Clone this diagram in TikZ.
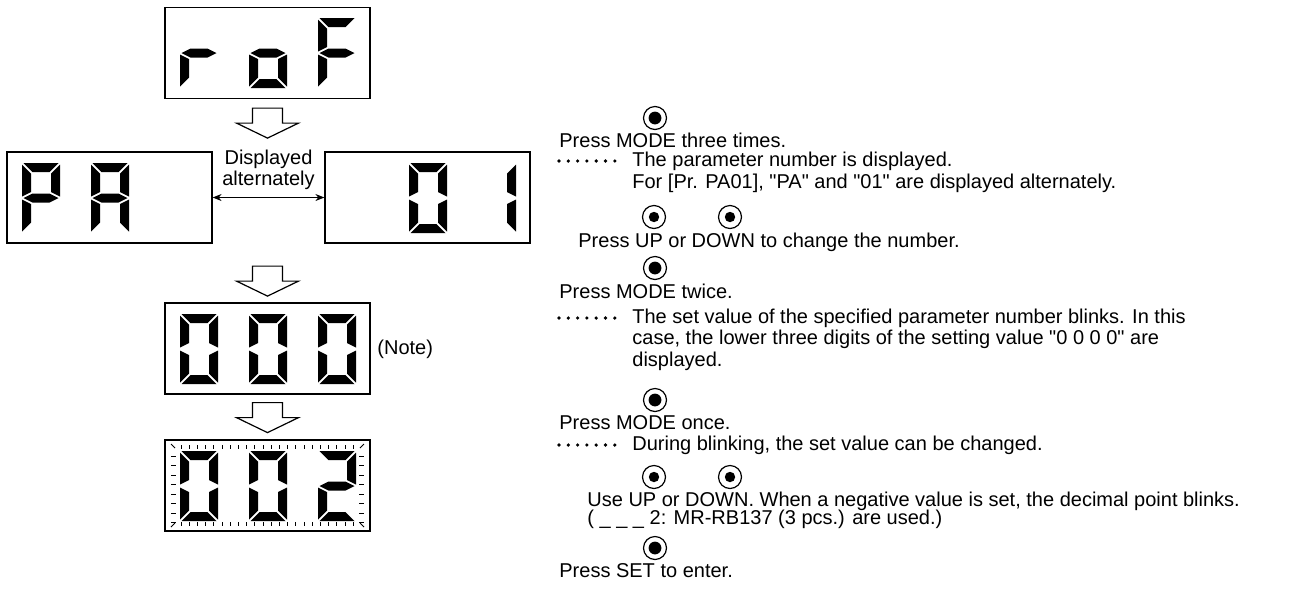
\documentclass[tikz,border=0pt]{standalone}
\usepackage{fontspec}
\setmainfont{Liberation Sans}[Ligatures=TeXOff]
\usetikzlibrary{arrows.meta,calc}

% seven segment digit (units: px)
\def\dw{38}\def\dh{70}\def\dm{35}\def\dt{9}\def\dg{1.5}
\newcommand{\sega}{\fill (\dg,0) -- ({\dw-\dg},0) -- ({\dw-\dt-\dg},\dt) -- ({\dt+\dg},\dt) -- cycle;}
\newcommand{\segb}{\fill (\dw,\dg) -- (\dw,{\dm-\dg}) -- ({\dw-\dt},{\dm-\dt/2-\dg}) -- ({\dw-\dt},{\dt+\dg}) -- cycle;}
\newcommand{\segc}{\fill (\dw,{\dm+\dg}) -- (\dw,{\dh-\dg}) -- ({\dw-\dt},{\dh-\dt-\dg}) -- ({\dw-\dt},{\dm+\dt/2+\dg}) -- cycle;}
\newcommand{\segd}{\fill (\dg,\dh) -- ({\dt+\dg},{\dh-\dt}) -- ({\dw-\dt-\dg},{\dh-\dt}) -- ({\dw-\dg},\dh) -- cycle;}
\newcommand{\sege}{\fill (0,{\dm+\dg}) -- (\dt,{\dm+\dt/2+\dg}) -- (\dt,{\dh-\dt-\dg}) -- (0,{\dh-\dg}) -- cycle;}
\newcommand{\segf}{\fill (0,\dg) -- (\dt,{\dt+\dg}) -- (\dt,{\dm-\dt/2-\dg}) -- (0,{\dm-\dg}) -- cycle;}
\newcommand{\segg}{\fill (\dg,\dm) -- ({\dt+\dg},{\dm-\dt/2}) -- ({\dw-\dt-\dg},{\dm-\dt/2}) -- ({\dw-\dg},\dm) -- ({\dw-\dt-\dg},{\dm+\dt/2}) -- ({\dt+\dg},{\dm+\dt/2}) -- cycle;}
\newcommand{\segdigit}[3]{\begin{scope}[shift={(#1,#2)}]\foreach \s in {#3}{\csname seg\s\endcsname}\end{scope}}
% hollow down arrow, top centre at #1
\newcommand{\flowarrow}[1]{\draw[hollow] (#1) ++(-15,0) -- ++(30,0) -- ++(0,15) -- ++(16,0) -- ++(-31,15) -- ++(-31,-15) -- ++(16,0) -- cycle;}
% row of dots
\newcommand{\dotrow}[2]{\foreach \i in {0,...,6} \fill ({#1+\i*9.3},#2) circle (0.9pt);}

\begin{document}
\begin{tikzpicture}[x=0.5pt,y=-0.5pt,
    disp/.style={draw, line width=0.6pt, minimum width=102.5pt, minimum height=45.5pt, inner sep=0pt},
    txt/.style={inner sep=0pt, anchor=base west},
    btn/.style={draw, circle, line width=0.6pt, minimum size=11.5pt, inner sep=0pt},
    hollow/.style={draw, line width=0.6pt, fill=white},
    font=\fontsize{10pt}{11pt}\selectfont]
\useasboundingbox (0,0) rectangle (1295,601);

% display: roF
\node[disp] (rof) at (267.5,53) {};
\segdigit{180}{18}{e,g}
\segdigit{249}{18}{c,d,e,g}
\segdigit{318}{18}{a,e,f,g}
\coordinate (ar1) at ($(rof.south)+(0,9)$);
\flowarrow{ar1}

% display: PA / 01
\node[disp] (pa) at (109.5,197.5) {};
\segdigit{22}{163}{a,b,e,f,g}
\segdigit{91}{163}{a,b,c,e,f,g}
\node[disp] (one) at (427.5,197.5) {};
\segdigit{409}{163}{a,b,c,d,e,f}
\segdigit{478}{163}{b,c}
\draw[{Stealth[length=4.5pt,width=3.5pt]}-{Stealth[length=4.5pt,width=3.5pt]}, line width=0.5pt] (pa.east) -- (one.west);
\node[inner sep=0pt, align=center, anchor=south, font=\fontsize{10pt}{8.5pt}\selectfont] (alt) at (268.5,190) {Displayed\\alternately};
\coordinate (ar2) at ($(rof.south)+(0,167)$);
\flowarrow{ar2}

% display: 000
\node[disp] (zero) at (267.5,348.5) {};
\segdigit{180}{314}{a,b,c,d,e,f}
\segdigit{249}{314}{a,b,c,d,e,f}
\segdigit{318}{314}{a,b,c,d,e,f}
\node[txt] (note) at (377,354) {(Note)};
\coordinate (ar3) at ($(zero.south)+(0,8)$);
\flowarrow{ar3}

% display: 002 (blinking)
\node[disp] (two) at (267.5,485.5) {};
\segdigit{180}{451}{a,b,c,d,e,f}
\segdigit{249}{451}{a,b,c,d,e,f}
\segdigit{318}{451}{a,b,d,e,g}
\foreach \i in {0,...,21} {
  \draw[line width=0.5pt] ({181+\i*8.2},445) -- ++(0,4);
  \draw[line width=0.5pt] ({181+\i*8.2},522) -- ++(0,4);
}
\foreach \i in {0,...,7} {
  \draw[line width=0.5pt] (171,{456+\i*9.5}) -- ++(5,0);
  \draw[line width=0.5pt] (359,{456+\i*9.5}) -- ++(5,0);
}
\draw[line width=0.5pt] (171,444) -- ++(4,4) (364,444) -- ++(-4,4) (171,527) -- ++(4,-4) (364,527) -- ++(-4,-4);

% steps
\node[btn] (mode1) at (655,118) {}; \fill (mode1) circle (3.2pt);
\node[txt] (t1) at (559,147) {Press MODE three times.};
\dotrow{559}{161}
\node[txt] (t2) at (632,166) {The parameter number is displayed.};
\node[txt] (t3) at (632,188) {For [Pr. PA01], "PA" and "01" are displayed alternately.};
\node[btn] (up1) at (654,217) {}; \fill (up1) circle (2.6pt);
\node[btn] (down1) at (730,217) {}; \fill (down1) circle (2.6pt);
\node[txt] (t4) at (578,247) {Press UP or DOWN to change the number.};
\node[btn] (mode2) at (655,268) {}; \fill (mode2) circle (3.2pt);
\node[txt] (t5) at (559,298) {Press MODE twice.};
\dotrow{559}{318}
\node[inner sep=0pt, anchor=north west, align=left, font=\fontsize{10pt}{10.75pt}\selectfont] (t6) at (632,308.5) {The set value of the specified parameter number blinks. In this\\case, the lower three digits of the setting value "0 0 0 0" are\\displayed.};
\node[btn] (mode3) at (655,400) {}; \fill (mode3) circle (3.2pt);
\node[txt] (t7) at (559,429) {Press MODE once.};
\dotrow{559}{445}
\node[txt] (t8) at (632,450) {During blinking, the set value can be changed.};
\node[btn] (up2) at (654,477) {}; \fill (up2) circle (2.6pt);
\node[btn] (down2) at (730,477) {}; \fill (down2) circle (2.6pt);
\node[txt] (t9) at (587,506) {Use UP or DOWN. When a negative value is set, the decimal point blinks.};
\node[txt] (t10) at (587,524) {(\ \_\ \_\ \_\ 2: MR-RB137 (3 pcs.) are used.)};
\node[btn] (set) at (655,548) {}; \fill (set) circle (3.2pt);
\node[txt] (t11) at (559,577) {Press SET to enter.};
\end{tikzpicture}
\end{document}
